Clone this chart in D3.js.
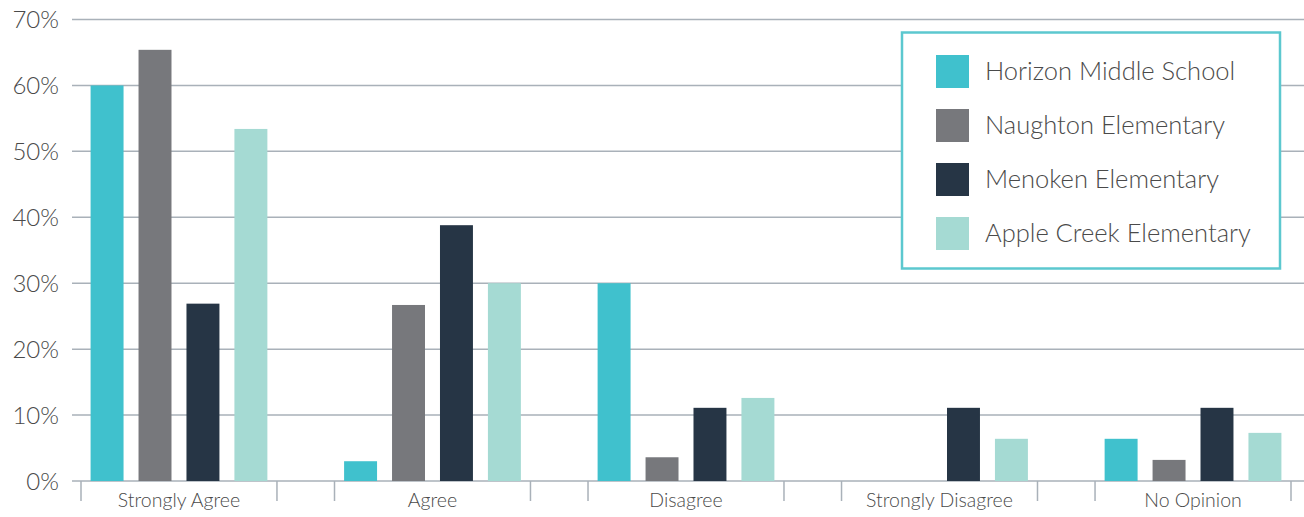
<!DOCTYPE html>
<html>
<head>
<meta charset="utf-8">
<script src="https://cdn.jsdelivr.net/npm/d3@7"></script>
<style>
  html, body { margin: 0; padding: 0; background: #ffffff; }
  svg { display: block; }
  text { font-family: Lato, "Open Sans", sans-serif; font-weight: 300; fill: #4a4a4a; }
</style>
</head>
<body>
<svg id="chart" width="1304" height="517"></svg>
<script>
// Survey response categories
const categories = ["Strongly Agree", "Agree", "Disagree", "Strongly Disagree", "No Opinion"];
// Schools (series)
const schools = ["Horizon Middle School", "Naughton Elementary", "Menoken Elementary", "Apple Creek Elementary"];
// Percent of respondents per category, one array per school
const horizon    = [60.0, 3.0, 30.0, 0.0, 6.4];
const naughton   = [65.4, 26.7, 3.6, 0.0, 3.2];
const menoken    = [26.9, 38.8, 11.1, 11.1, 11.1];
const appleCreek = [53.4, 30.0, 12.6, 6.4, 7.3];
// Y axis ticks
const yTicks = [0, 10, 20, 30, 40, 50, 60, 70];

const seriesValues = [horizon, naughton, menoken, appleCreek];
const colors = ["#40c1cd", "#77787c", "#263545", "#a5dad3"];

const svg = d3.select("#chart");
const W = 1304;

const y = d3.scaleLinear().domain([0, 70]).range([481, 19.5]);

const x = d3.scaleBand().domain(categories).range([81, 1291])
  .paddingInner(0.227).paddingOuter(0);

const xInner = d3.scaleBand().domain(schools).range([0, x.bandwidth()])
  .paddingInner(0.3125).paddingOuter(0.2);

// Horizontal gridlines
svg.append("g")
  .selectAll("line")
  .data(yTicks)
  .join("line")
  .attr("x1", 72).attr("x2", W)
  .attr("y1", d => y(d)).attr("y2", d => y(d))
  .attr("stroke", "#a9b1b9")
  .attr("stroke-width", 1.5);

// Y tick labels
svg.append("g")
  .selectAll("text")
  .data(yTicks)
  .join("text")
  .attr("x", 59)
  .attr("y", d => y(d))
  .attr("dy", "0.36em")
  .attr("text-anchor", "end")
  .style("font-size", "24px")
  .text(d => d + "%");

// Bars
const groups = svg.append("g")
  .selectAll("g")
  .data(categories)
  .join("g")
  .attr("transform", d => `translate(${x(d)},0)`);

groups.selectAll("rect")
  .data((c, ci) => schools.map((s, si) => ({ s, si, v: seriesValues[si][ci] })))
  .join("rect")
  .attr("x", d => xInner(d.s))
  .attr("width", xInner.bandwidth())
  .attr("y", d => y(d.v))
  .attr("height", d => y(0) - y(d.v))
  .attr("fill", d => colors[d.si]);

// Category axis: tick marks at both edges of each category band
const axis = svg.append("g");
axis.selectAll("line")
  .data(categories.flatMap(c => [x(c), x(c) + x.bandwidth()]))
  .join("line")
  .attr("x1", d => d).attr("x2", d => d)
  .attr("y1", 481).attr("y2", 501)
  .attr("stroke", "#a9b1b9")
  .attr("stroke-width", 1.5);

axis.selectAll("text")
  .data(categories)
  .join("text")
  .attr("x", d => x(d) + x.bandwidth() / 2)
  .attr("y", 507)
  .attr("text-anchor", "middle")
  .style("font-size", "19.5px")
  .text(d => d);

// Legend
const legend = svg.append("g");
legend.append("rect")
  .attr("x", 902).attr("y", 32.5)
  .attr("width", 378).attr("height", 236)
  .attr("fill", "#ffffff")
  .attr("stroke", "#5cc8cf")
  .attr("stroke-width", 2.5);

const items = legend.selectAll("g.item")
  .data(schools)
  .join("g")
  .attr("class", "item")
  .attr("transform", (d, i) => `translate(936,${55 + i * 54})`);

items.append("rect")
  .attr("width", 33).attr("height", 33)
  .attr("fill", (d, i) => colors[i]);

items.append("text")
  .attr("x", 49)
  .attr("y", 15.5)
  .attr("dy", "0.36em")
  .style("font-size", "25.5px")
  .text(d => d);
</script>
</body>
</html>
